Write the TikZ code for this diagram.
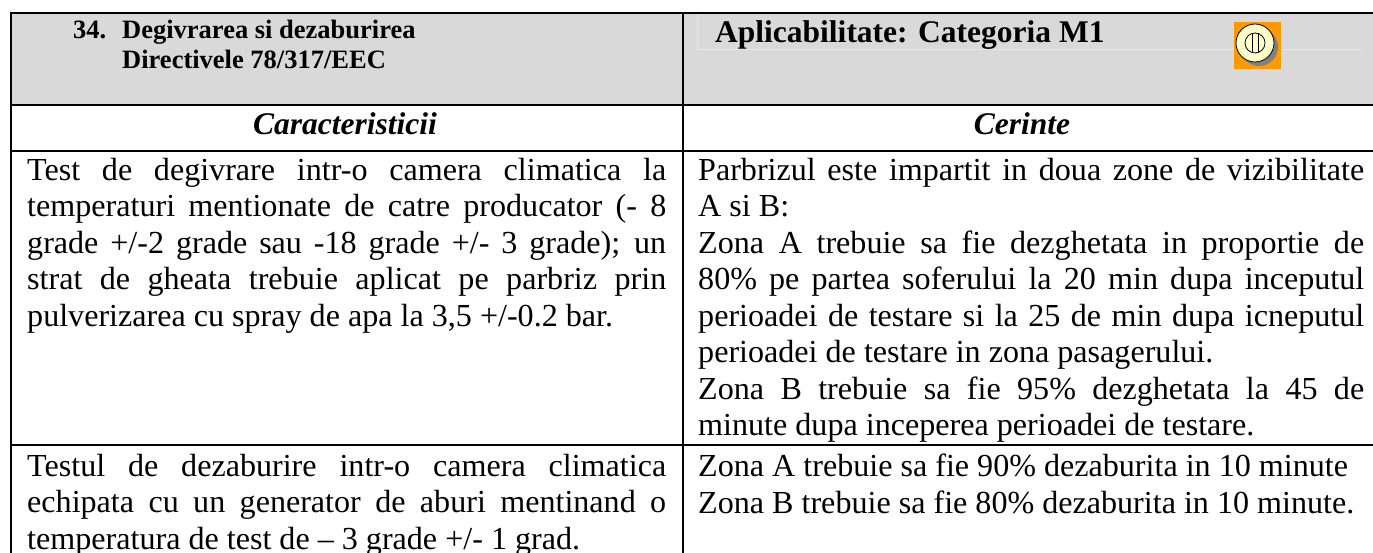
\documentclass[tikz,border=0pt]{standalone}
\usepackage{fontspec}
\setmainfont{Liberation Serif}
\tikzset{
  cell/.style={anchor=north west,inner sep=0pt,align=justify,text width=#1,font=\fontsize{32.1}{36.5}\selectfont},
  rule/.style={line width=2pt,black},
  hdr/.style={anchor=base west,inner sep=0pt,font=\fontsize{#1}{#1}\selectfont\bfseries},
  sub/.style={anchor=base,inner sep=0pt,font=\fontsize{31.5}{31.5}\selectfont\bfseries\itshape}
}
\begin{document}
\begin{tikzpicture}[x=1pt,y=-1pt]
\useasboundingbox (0,0) rectangle (1373,553);
\fill[fill=black!15] (11,13) rectangle (1373,106);
\draw[line width=1pt,black!10] (697.5,13) -- (697.5,50) -- (1363,50);
\draw[rule] (11,553) -- (11,13) -- (1373,13);
\draw[rule] (11,105.5) -- (1373,105.5);
\draw[rule] (11,151) -- (1373,151);
\draw[rule] (11,445) -- (1373,445);
\draw[rule] (683,13) -- (683,553);
\node[hdr=26.5] (a) at (73,39) {34.};
\node[hdr=26.5] (b) at (122,39) {Degivrarea si dezaburirea};
\node[hdr=26.5] (c) at (122,69) {Directivele 78/317/EEC};
\node[hdr=31.5] (d) at (715,43) {Aplicabilitate: Categoria M1};
\node[sub] (e) at (345,135) {Caracteristicii};
\node[sub] (f) at (1022,135) {Cerinte};
\node[cell=639pt] (g) at (27,158) {Test de degivrare intr-o camera climatica la\linebreak temperaturi mentionate de catre producator (- 8\linebreak grade +/-2 grade sau -18 grade +/- 3 grade); un\linebreak strat de gheata trebuie aplicat pe parbriz prin\linebreak pulverizarea cu spray de apa la 3,5 +/-0.2 bar.};
\node[cell=666pt] (h) at (698,158) {Parbrizul este impartit in doua zone de vizibilitate\linebreak A si B:\hfill\null\linebreak Zona A trebuie sa fie dezghetata in proportie de\linebreak 80\% pe partea soferului la 20 min dupa inceputul\linebreak perioadei de testare si la 25 de min dupa icneputul\linebreak perioadei de testare in zona pasagerului.\hfill\null\linebreak Zona B trebuie sa fie 95\% dezghetata la 45 de\linebreak minute dupa inceperea perioadei de testare.};
\node[cell=639pt] (i) at (27,454) {Testul de dezaburire intr-o camera climatica\linebreak echipata cu un generator de aburi mentinand o\linebreak temperatura de test de -- 3 grade +/- 1 grad.};
\node[cell=666pt] (j) at (698,454) {Zona A trebuie sa fie 90\% dezaburita in 10 minute\hfill\null\linebreak Zona B trebuie sa fie 80\% dezaburita in 10 minute.};
\fill[fill={rgb,255:red,255;green,153;blue,0}] (1234,22) rectangle (1281,69);
\fill[black!50] (1259,47) circle (19);
\draw[fill={rgb,255:red,255;green,255;blue,204},line width=0.8pt] (1255,43) circle (19);
\draw[line width=0.8pt] (1255,43) circle (10);
\draw[line width=0.8pt] (1252.5,33.5) -- (1252.5,52.5) (1258,33.5) -- (1258,52.5);
\end{tikzpicture}
\end{document}
